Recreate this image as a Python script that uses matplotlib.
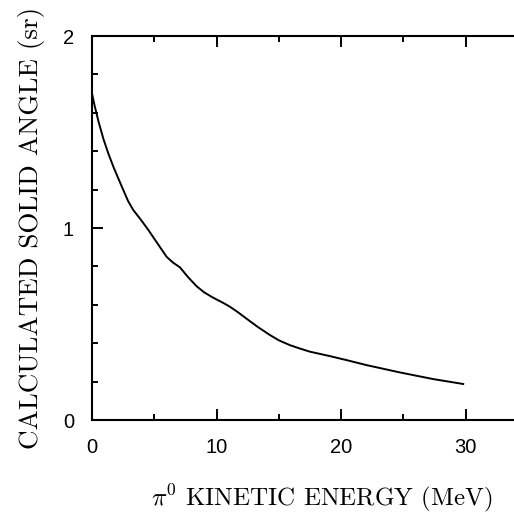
import matplotlib
matplotlib.use("Agg")
import matplotlib.pyplot as plt
from matplotlib.ticker import MultipleLocator

# pi0 kinetic energy (MeV) vs calculated solid angle (sr)
energy = [0.0, 0.2, 0.5, 0.91, 1.3, 1.71, 2.1, 2.51, 2.9, 3.31, 3.9, 4.52,
          5.2, 5.99, 6.5, 7.06, 7.7, 8.39, 9.0, 9.7, 10.53, 11.07, 11.7,
          12.4, 13.3, 14.27, 15.0, 15.88, 16.7, 17.48, 19.08, 20.4, 22.03,
          24.7, 27.4, 29.8]
solid_angle = [1.70, 1.64, 1.56, 1.465, 1.39, 1.32, 1.26, 1.198, 1.14, 1.094,
               1.045, 0.99, 0.925, 0.85, 0.82, 0.795, 0.745, 0.697, 0.665,
               0.638, 0.61, 0.59, 0.562, 0.528, 0.485, 0.443, 0.415, 0.39,
               0.372, 0.356, 0.333, 0.3125, 0.286, 0.248, 0.213, 0.1875]

plt.rcParams['mathtext.fontset'] = 'cm'

fig = plt.figure(figsize=(5.14, 5.18), dpi=100)
ax = fig.add_axes([92/514, 98/518, 436/514, 384/518])

ax.plot(energy, solid_angle, color='black', lw=1.4)

ax.set_xlim(0, 35)
ax.set_ylim(0, 2)
ax.xaxis.set_major_locator(MultipleLocator(10))
ax.xaxis.set_minor_locator(MultipleLocator(5))
ax.yaxis.set_major_locator(MultipleLocator(1))
ax.yaxis.set_minor_locator(MultipleLocator(0.2))
ax.tick_params(which='both', direction='in', top=True, right=True, width=1.4, color='black')
ax.tick_params(which='major', length=8)
ax.tick_params(which='minor', length=4.5)
for lab in ax.get_xticklabels() + ax.get_yticklabels():
    lab.set_fontfamily('Liberation Sans')
    lab.set_fontsize(14.5)
ax.tick_params(axis='x', pad=13)
ax.tick_params(axis='y', pad=13)
for s in ax.spines.values():
    s.set_linewidth(1.5)

ax.set_xlabel(r'$\pi^0$ KINETIC ENERGY (MeV)', fontfamily='cmr10', fontsize=18)
ax.xaxis.set_label_coords(0.528, -0.162)
ax.set_ylabel('CALCULATED SOLID ANGLE (sr)', fontfamily='cmr10', fontsize=19.5, labelpad=13)

fig.savefig('out.png', dpi=100)
